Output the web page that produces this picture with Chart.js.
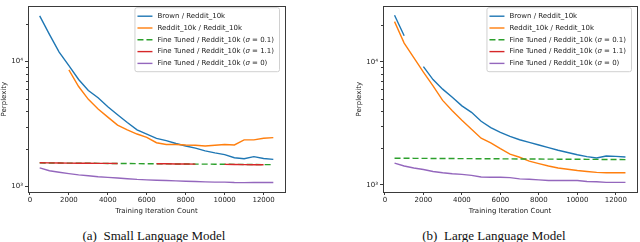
<!DOCTYPE html>
<html>
<head>
<meta charset="utf-8">
<script src="https://cdn.jsdelivr.net/npm/chart.js@4.4.0/dist/chart.umd.min.js"></script>
<style>
    body { margin: 0; background: #fff; width: 640px; height: 242px; position: relative; overflow: hidden; }
    .panel { position: absolute; top: 0; width: 320px; height: 215px; }
    .cap { position: absolute; top: 228px; transform: translateX(-50%);
           font-family: "Liberation Serif", "Times New Roman", serif; font-size: 13px;
           color: #111; white-space: pre; line-height: 15px; }
</style>
</head>
<body>
<div class="panel" style="left:0"><canvas id="chart-small" width="320" height="215"></canvas></div>
<div class="panel" style="left:320px"><canvas id="chart-large" width="320" height="215"></canvas></div>
<div class="cap" style="left:154px">(a)  Small Language Model</div>
<div class="cap" style="left:494px">(b)  Large Language Model</div>

<script>
// ── Data ───────────────────────────────────────────────────
const ITERS = [500, 1000, 1500, 2000, 2500, 3000, 3500, 4000, 4500, 5000, 5500, 6000, 6500,
               7000, 7500, 8000, 8500, 9000, 9500, 10000, 10500, 11000, 11500, 12000, 12500];

const LABELS = [
    'Brown / Reddit_10k',
    'Reddit_10k / Reddit_10k',
    'Fine Tuned / Reddit_10k (σ = 0.1)',
    'Fine Tuned / Reddit_10k (σ = 1.1)',
    'Fine Tuned / Reddit_10k (σ = 0)'
];

const X_TICKS = [0, 2000, 4000, 6000, 8000, 10000, 12000];
const Y_MAJOR = [1000, 10000];
const Y_MINOR = [2000, 3000, 4000, 5000, 6000, 7000, 8000, 9000, 20000];

// (a) small model
const SMALL_BROWN  = [23200, 16500, 11900, 9260, 7180, 5870, 5130, 4350, 3750, 3250, 2840, 2630, 2430,
                      2330, 2210, 2110, 2030, 1930, 1860, 1800, 1700, 1670, 1735, 1675, 1650];
const SMALL_REDDIT = [null, null, null, 8570, 6310, 4980, 4170, 3590, 3100, 2840, 2630, 2470, 2240,
                      2170, 2170, 2150, 2140, 2110, 2140, 2170, 2150, 2360, 2360, 2430, 2460];
const SMALL_FT01   = [1545, 1543, 1541, 1538, 1537, 1534, 1533, 1530, 1528, 1527, 1524, 1522, 1521,
                      1518, 1516, 1515, 1512, 1510, 1509, 1506, 1504, 1502, 1500, 1497, 1495];
const SMALL_FT11   = [1548, 1545, 1541, 1539, 1536, 1535, 1532, 1531, 1528, null, null, null, 1520,
                      1519, 1516, 1514, 1512, null, null, 1503, 1500, 1497, 1495, 1493, null];
const SMALL_FT0    = [1410, 1336, 1300, 1268, 1240, 1220, 1197, 1183, 1170, 1155, 1140, 1130, 1123,
                      1117, 1110, 1103, 1097, 1090, 1084, 1084, 1077, 1075, 1077, 1076, 1077];

// (b) large model
const LARGE_BROWN  = [23900, 16300, null, 9140, 7180, 6000, 5160, 4390, 3890, 3290, 2920, 2670, 2480,
                      2330, 2220, 2110, 2010, 1915, 1836, 1760, 1700, 1657, 1717, 1707, 1687];
const LARGE_REDDIT = [21200, 14200, 10800, 8250, 6370, 4860, 4010, 3350, 2830, 2400, 2200, 1970, 1780,
                      1680, 1560, 1490, 1425, 1375, 1343, 1310, 1288, 1265, 1257, 1257, 1257];
const LARGE_FT01   = [1649, 1647, 1646, 1644, 1642, 1641, 1639, 1637, 1636, 1634, 1632, 1631, 1629,
                      1627, 1626, 1624, 1622, 1620, 1619, 1617, 1615, 1613, 1612, 1610, 1608];
const LARGE_FT11   = [];
const LARGE_FT0    = [1505, 1426, 1375, 1335, 1288, 1257, 1234, 1220, 1198, 1162, 1155, 1155, 1148,
                      1121, 1114, 1101, 1088, 1088, 1088, 1088, 1068, 1062, 1049, 1049, 1049];

// ── Styles ─────────────────────────────────────────────────
const COLORS = ['#1f77b4', '#ff7f0e', '#2ca02c', '#d62728', '#9467bd'];
const DASHES = [[], [], [6, 3], [], []];
const FONT = 'DejaVu Sans';
const AXIS = '#3a3a3a';

// cadre + petites graduations + légende
const framePlugin = {
    id: 'frame',
    afterDraw(chart) {
        const { ctx, chartArea: a, scales: { y } } = chart;
        ctx.save();
        ctx.strokeStyle = AXIS;
        ctx.lineWidth = 1;
        ctx.strokeRect(Math.round(a.left) + 0.5, Math.round(a.top) + 0.5,
                       Math.round(a.right - a.left), Math.round(a.bottom - a.top));
        ctx.beginPath();
        Y_MINOR.forEach(v => {
            const py = Math.round(y.getPixelForValue(v)) + 0.5;
            if (py < a.top || py > a.bottom) return;
            ctx.moveTo(a.left - 2, py);
            ctx.lineTo(a.left, py);
        });
        ctx.stroke();

        // légende
        const sets = chart.data.datasets;
        const normal = `7px "${FONT}"`;
        const italic = `italic 7px "${FONT}"`;
        const width = s => {
            const [pre, post] = s.split('σ');
            ctx.font = normal;
            let w = ctx.measureText(pre).width;
            if (post !== undefined) {
                w += ctx.measureText(post).width;
                ctx.font = italic;
                w += ctx.measureText('σ').width;
            }
            return w;
        };
        const tw = Math.max(...sets.map(d => width(d.label)));
        const bw = tw + 28, bh = 64;
        const bx = a.right - 6 - bw, by = a.top + 1;
        ctx.globalAlpha = 0.85;
        ctx.fillStyle = '#fff';
        ctx.beginPath();
        ctx.roundRect(bx + 0.5, by + 0.5, bw, bh, 2);
        ctx.fill();
        ctx.globalAlpha = 1;
        ctx.strokeStyle = '#d0d0d0';
        ctx.stroke();

        sets.forEach((d, i) => {
            const cy = by + 9 + i * 11.8;
            ctx.strokeStyle = d.borderColor;
            ctx.lineWidth = 1.4;
            ctx.setLineDash(d.borderDash || []);
            ctx.beginPath();
            ctx.moveTo(bx + 3, cy);
            ctx.lineTo(bx + 18, cy);
            ctx.stroke();
            ctx.setLineDash([]);

            ctx.fillStyle = '#222';
            ctx.textBaseline = 'middle';
            const [pre, post] = d.label.split('σ');
            let tx = bx + 23;
            ctx.font = normal;
            ctx.fillText(pre, tx, cy);
            tx += ctx.measureText(pre).width;
            if (post !== undefined) {
                ctx.font = italic;
                ctx.fillText('σ', tx, cy);
                tx += ctx.measureText('σ').width;
                ctx.font = normal;
                ctx.fillText(post, tx, cy);
            }
        });
        ctx.restore();
    }
};

function makeChart(id, series, yMin, yMax, padding) {
    const datasets = series.map((vals, i) => ({
        label: LABELS[i],
        data: vals.map((v, k) => ({ x: ITERS[k], y: v })),
        borderColor: COLORS[i],
        borderWidth: 1.4,
        borderDash: DASHES[i],
        pointRadius: 0,
        tension: 0,
        spanGaps: false,
        order: series.length - i,
    }));

    const ctx = document.getElementById(id).getContext('2d');
    return new Chart(ctx, {
        type: 'line',
        data: { datasets },
        options: {
            responsive: false,
            animation: false,
            events: [],
            layout: { padding },
            plugins: { legend: { display: false }, tooltip: { enabled: false } },
            scales: {
                x: {
                    type: 'linear', min: -100, max: 13100,
                    afterBuildTicks: ax => { ax.ticks = X_TICKS.map(v => ({ value: v })); },
                    afterFit: ax => { ax.height = 23; },
                    grid: { drawOnChartArea: false, tickLength: 3, color: AXIS },
                    border: { display: false },
                    ticks: { font: { family: FONT, size: 7 }, color: '#222', padding: 1,
                             maxRotation: 0, callback: v => String(v) },
                    title: { display: true, text: 'Training Iteration Count', color: '#222',
                             font: { family: FONT, size: 7 }, padding: 0 }
                },
                y: {
                    type: 'logarithmic', min: yMin, max: yMax,
                    afterBuildTicks: ax => { ax.ticks = Y_MAJOR.map(v => ({ value: v })); },
                    afterFit: ax => { ax.width = 28; },
                    grid: { drawOnChartArea: false, tickLength: 3, color: AXIS },
                    border: { display: false },
                    ticks: { font: { family: FONT, size: 7 }, color: '#222', padding: 2,
                             callback: v => v === 1000 ? '10³' : v === 10000 ? '10⁴' : '' },
                    title: { display: true, text: 'Perplexity', color: '#222',
                             font: { family: FONT, size: 7 }, padding: 0 }
                }
            }
        },
        plugins: [framePlugin]
    });
}

makeChart('chart-small',
    [SMALL_BROWN, SMALL_REDDIT, SMALL_FT01, SMALL_FT11, SMALL_FT0],
    904, 27700, { left: 0, right: 35, top: 1, bottom: 0 });

makeChart('chart-large',
    [LARGE_BROWN, LARGE_REDDIT, LARGE_FT01, LARGE_FT11, LARGE_FT0],
    877, 28300, { left: 35, right: 3, top: 1, bottom: 0 });
</script>
</body>
</html>
